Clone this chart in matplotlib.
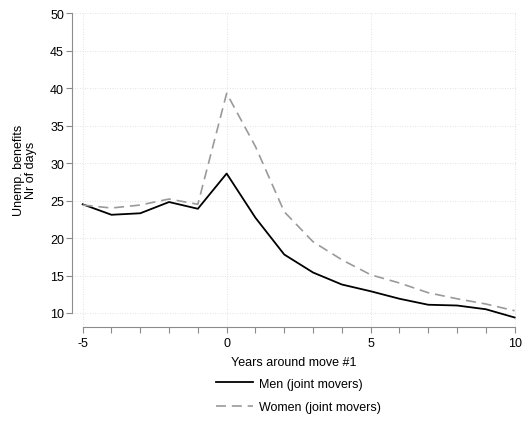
import numpy as np
import matplotlib
matplotlib.use("Agg")
import matplotlib.pyplot as plt

plt.rcParams['font.family'] = ['Liberation Sans', 'DejaVu Sans']
plt.rcParams['axes.unicode_minus'] = False

years = list(range(-5, 11))
men = [24.5, 23.1, 23.3, 24.8, 23.9, 28.6, 22.7, 17.8, 15.4, 13.8, 12.9, 11.9, 11.1, 11.0, 10.5, 9.4]
women = [24.4, 24.0, 24.4, 25.2, 24.5, 39.3, 32.2, 23.5, 19.5, 17.1, 15.1, 14.0, 12.7, 11.9, 11.2, 10.3]
xticks_major = [-5, 0, 5, 10]
yticks = list(range(10, 51, 5))

fig = plt.figure(figsize=(5.23, 4.27), dpi=100)
ax = fig.add_axes([0.1382, 0.2311, 0.8486, 0.7377])

axis_col = '#8c8c8c'
grid_col = '#d9d9d9'

for y in yticks:
    ax.axhline(y, color=grid_col, lw=0.6, ls=(0, (1, 2)), zorder=0)
for x in xticks_major:
    ax.axvline(x, color=grid_col, lw=0.6, ls=(0, (1, 2)), zorder=0)

ax.plot(years, men, color='black', lw=1.3, label='Men (joint movers)')
ax.plot(years, women, color='#9a9a9a', lw=1.2, ls=(0, (6, 3.5)), label='Women (joint movers)')

ax.set_xlim(-5.36, 10.05)
ax.set_ylim(8.09, 50.1)

for s in ['top', 'right']:
    ax.spines[s].set_visible(False)
ax.spines['left'].set_bounds(10, 50)
ax.spines['bottom'].set_bounds(-5, 10)
for s in ['left', 'bottom']:
    ax.spines[s].set_color(axis_col)
    ax.spines[s].set_linewidth(0.8)

ax.set_xticks(years, minor=True)
ax.set_xticks(xticks_major)
ax.set_xticklabels([str(t) for t in xticks_major])
ax.set_yticks(yticks)
ax.tick_params(which='both', length=4, width=0.8, color=axis_col, labelsize=9, pad=2)
ax.tick_params(axis='x', pad=3)

ax.set_xlabel('Years around move #1', fontsize=9, labelpad=5)
ax.set_ylabel('Unemp. benefits\nNr of days', fontsize=9, labelpad=9, linespacing=1.0,
              multialignment='center')

fig.legend(loc='upper left', bbox_to_anchor=(0.404, 0.125), frameon=False, fontsize=9,
           handlelength=2.9, handletextpad=0.55, labelspacing=0.9, borderaxespad=0)

fig.savefig('out.png', dpi=100)
